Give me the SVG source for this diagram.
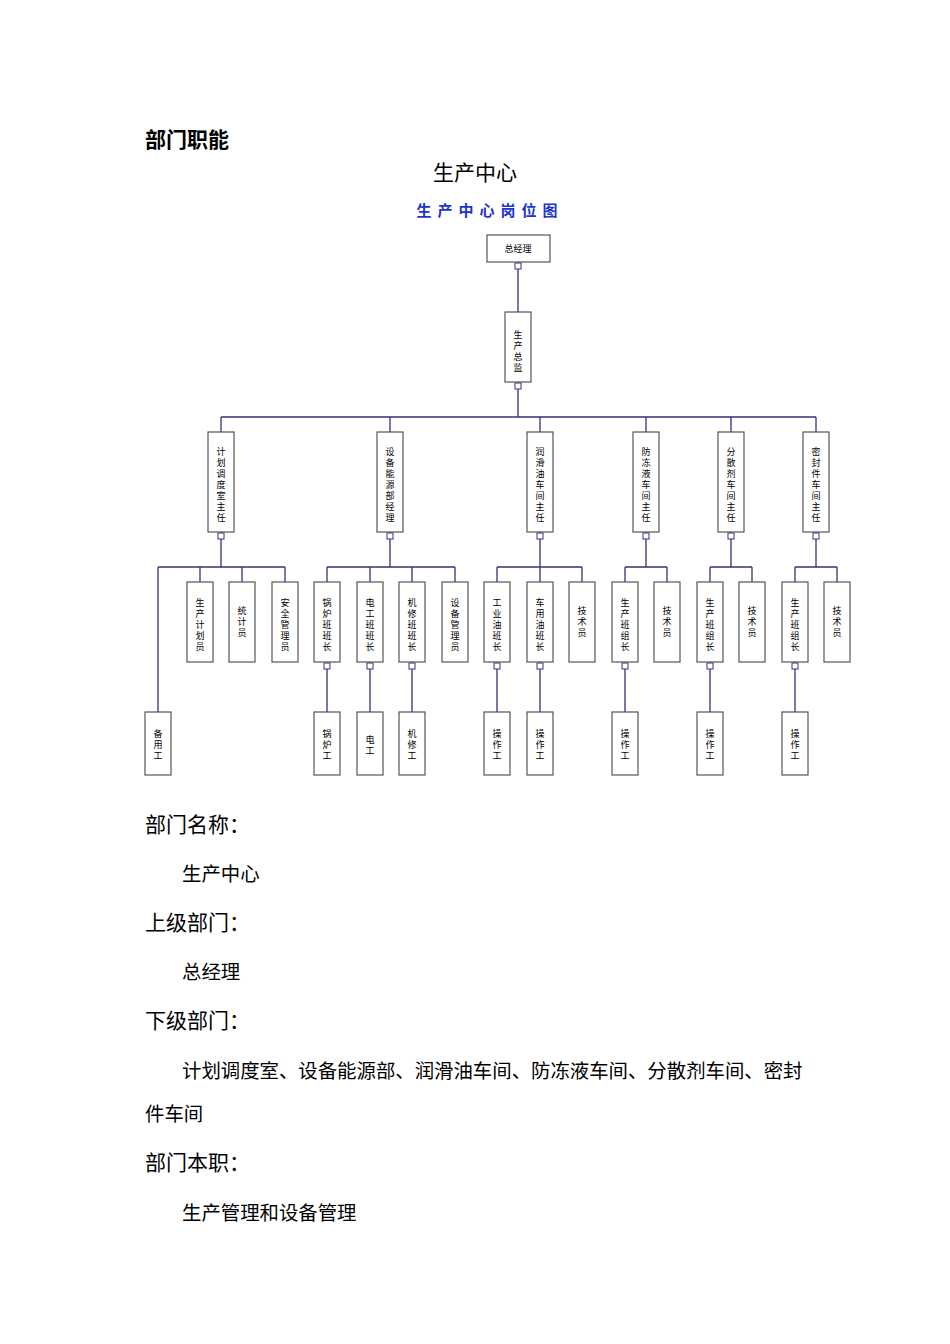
<svg xmlns="http://www.w3.org/2000/svg" width="950" height="1344" viewBox="0 0 950 1344">
<style>
.h{font-family:"Noto Sans CJK SC","Noto Sans",sans-serif;font-size:21px;fill:#000}
.b{font-family:"Noto Sans CJK SC",serif;font-size:19.4px;fill:#000}
.n{fill:#fff;stroke:#555;stroke-width:1.2}
.t{font-family:"Noto Sans CJK SC",sans-serif;font-size:9px;fill:#000;writing-mode:vertical-rl;letter-spacing:2px}
.c path{stroke:#33337a;stroke-width:1.3;fill:none}
.sq{fill:#fff;stroke:#33337a;stroke-width:1}
</style>
<rect width="950" height="1344" fill="#fff"/>
<text x="145" y="147" class="h" font-weight="bold" font-size="24">部门职能</text>
<text x="475" y="180" class="h" text-anchor="middle">生产中心</text>
<text x="490" y="216" font-family="Noto Sans CJK SC,sans-serif" font-size="15" font-weight="bold" fill="#2233cc" text-anchor="middle" letter-spacing="6">生产中心岗位图</text>
<g class="c">
<path d="M518 262V312M518 382V417M221 417H816M221 417V432M390 417V432M540 417V432M646 417V432M731 417V432M816 417V432"/>
<path d="M221 532V567M158 567H285M158 567V712M200 567V582M242 567V582M285 567V582"/>
<path d="M390 532V567M327 567H455M327 567V582M370 567V582M412 567V582M455 567V582"/>
<path d="M540 532V567M497 567H582M497 567V582M540 567V582M582 567V582"/>
<path d="M646 532V567M625 567H667M625 567V582M667 567V582"/>
<path d="M731 532V567M710 567H752M710 567V582M752 567V582"/>
<path d="M816 532V567M795 567H837M795 567V582M837 567V582"/>
<path d="M327 662V712M370 662V712M412 662V712M497 662V712M540 662V712M625 662V712M710 662V712M795 662V712"/>
<g id="sqs">
<rect class="sq" x="515" y="263" width="6" height="6"/><rect class="sq" x="515" y="383" width="6" height="6"/>
<rect class="sq" x="218" y="533" width="6" height="6"/><rect class="sq" x="387" y="533" width="6" height="6"/><rect class="sq" x="537" y="533" width="6" height="6"/><rect class="sq" x="643" y="533" width="6" height="6"/><rect class="sq" x="728" y="533" width="6" height="6"/><rect class="sq" x="813" y="533" width="6" height="6"/>
<rect class="sq" x="324" y="663" width="6" height="6"/><rect class="sq" x="367" y="663" width="6" height="6"/><rect class="sq" x="409" y="663" width="6" height="6"/><rect class="sq" x="494" y="663" width="6" height="6"/><rect class="sq" x="537" y="663" width="6" height="6"/><rect class="sq" x="622" y="663" width="6" height="6"/><rect class="sq" x="707" y="663" width="6" height="6"/><rect class="sq" x="792" y="663" width="6" height="6"/>
</g>
</g>
<g id="n0"><rect class="n" x="487" y="235" width="63" height="27"/><text x="518" y="252" font-family="Noto Sans CJK SC,sans-serif" font-size="9" text-anchor="middle">总经理</text></g>
<g id="n1"><rect class="n" x="505" y="312" width="26" height="70"/><text class="t" x="518" y="330">生产总监</text></g>
<g id="l2">
<g id="a1"><rect class="n" x="208" y="432" width="26" height="100"/><text class="t" x="221" y="447">计划调度室主任</text></g>
<g id="a2"><rect class="n" x="377" y="432" width="26" height="100"/><text class="t" x="390" y="447">设备能源部经理</text></g>
<g id="a3"><rect class="n" x="527" y="432" width="26" height="100"/><text class="t" x="540" y="447">润滑油车间主任</text></g>
<g id="a4"><rect class="n" x="633" y="432" width="26" height="100"/><text class="t" x="646" y="447">防冻液车间主任</text></g>
<g id="a5"><rect class="n" x="718" y="432" width="26" height="100"/><text class="t" x="731" y="447">分散剂车间主任</text></g>
<g id="a6"><rect class="n" x="803" y="432" width="26" height="100"/><text class="t" x="816" y="447">密封件车间主任</text></g>
</g>
<g id="l3">
<g id="b1"><rect class="n" x="187" y="582" width="26" height="80"/><text class="t" x="200" y="598">生产计划员</text></g>
<g id="b2"><rect class="n" x="229" y="582" width="26" height="80"/><text class="t" x="242" y="606">统计员</text></g>
<g id="b3"><rect class="n" x="272" y="582" width="26" height="80"/><text class="t" x="285" y="598">安全管理员</text></g>
<g id="b4"><rect class="n" x="314" y="582" width="26" height="80"/><text class="t" x="327" y="598">锅炉班班长</text></g>
<g id="b5"><rect class="n" x="357" y="582" width="26" height="80"/><text class="t" x="370" y="598">电工班班长</text></g>
<g id="b6"><rect class="n" x="399" y="582" width="26" height="80"/><text class="t" x="412" y="598">机修班班长</text></g>
<g id="b7"><rect class="n" x="442" y="582" width="26" height="80"/><text class="t" x="455" y="598">设备管理员</text></g>
<g id="b8"><rect class="n" x="484" y="582" width="26" height="80"/><text class="t" x="497" y="598">工业油班长</text></g>
<g id="b9"><rect class="n" x="527" y="582" width="26" height="80"/><text class="t" x="540" y="598">车用油班长</text></g>
<g id="b10"><rect class="n" x="569" y="582" width="26" height="80"/><text class="t" x="582" y="606">技术员</text></g>
<g id="b11"><rect class="n" x="612" y="582" width="26" height="80"/><text class="t" x="625" y="598">生产班组长</text></g>
<g id="b12"><rect class="n" x="654" y="582" width="26" height="80"/><text class="t" x="667" y="606">技术员</text></g>
<g id="b13"><rect class="n" x="697" y="582" width="26" height="80"/><text class="t" x="710" y="598">生产班组长</text></g>
<g id="b14"><rect class="n" x="739" y="582" width="26" height="80"/><text class="t" x="752" y="606">技术员</text></g>
<g id="b15"><rect class="n" x="782" y="582" width="26" height="80"/><text class="t" x="795" y="598">生产班组长</text></g>
<g id="b16"><rect class="n" x="824" y="582" width="26" height="80"/><text class="t" x="837" y="606">技术员</text></g>
</g>
<g id="l4">
<g id="c1"><rect class="n" x="145" y="712" width="26" height="63"/><text class="t" x="158" y="729">备用工</text></g>
<g id="c2"><rect class="n" x="314" y="712" width="26" height="63"/><text class="t" x="327" y="729">锅炉工</text></g>
<g id="c3"><rect class="n" x="357" y="712" width="26" height="63"/><text class="t" x="370" y="735">电工</text></g>
<g id="c4"><rect class="n" x="399" y="712" width="26" height="63"/><text class="t" x="412" y="729">机修工</text></g>
<g id="c5"><rect class="n" x="484" y="712" width="26" height="63"/><text class="t" x="497" y="729">操作工</text></g>
<g id="c6"><rect class="n" x="527" y="712" width="26" height="63"/><text class="t" x="540" y="729">操作工</text></g>
<g id="c7"><rect class="n" x="612" y="712" width="26" height="63"/><text class="t" x="625" y="729">操作工</text></g>
<g id="c8"><rect class="n" x="697" y="712" width="26" height="63"/><text class="t" x="710" y="729">操作工</text></g>
<g id="c9"><rect class="n" x="782" y="712" width="26" height="63"/><text class="t" x="795" y="729">操作工</text></g>
</g>
<text x="145" y="832" class="h">部门名称：</text>
<text x="182" y="881" class="b">生产中心</text>
<text x="145" y="930" class="h">上级部门：</text>
<text x="182" y="979" class="b">总经理</text>
<text x="145" y="1028" class="h">下级部门：</text>
<text x="182" y="1078" class="b">计划调度室、设备能源部、润滑油车间、防冻液车间、分散剂车间、密封</text>
<text x="145" y="1121" class="b">件车间</text>
<text x="145" y="1170" class="h">部门本职：</text>
<text x="182" y="1220" class="b">生产管理和设备管理</text>
</svg>
